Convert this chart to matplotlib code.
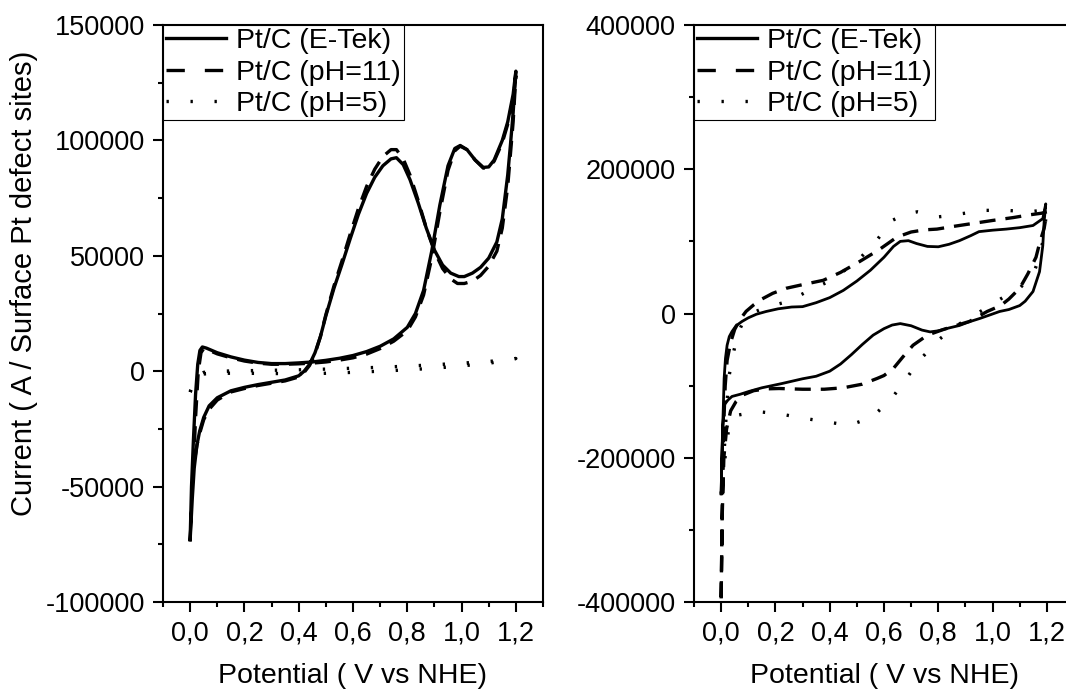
import numpy as np
import matplotlib
matplotlib.use("Agg")
import matplotlib.pyplot as plt
from matplotlib.lines import Line2D
from matplotlib.ticker import MultipleLocator, FuncFormatter

plt.rcParams['font.family'] = ['Liberation Sans', 'DejaVu Sans']
plt.rcParams['axes.unicode_minus'] = False

labels = ["Pt/C (E-Tek)", "Pt/C (pH=11)", "Pt/C (pH=5)"]

# ---- left panel: current per surface Pt defect site ----
etek_l_x = [0.000, 0.005, 0.012, 0.020, 0.028, 0.036, 0.045, 0.06, 0.10, 0.15, 0.20, 0.25, 0.30, 0.35,
            0.40, 0.45, 0.50, 0.55, 0.60, 0.65, 0.70, 0.75, 0.80, 0.83, 0.86, 0.89, 0.92, 0.95, 0.975,
            0.995, 1.02, 1.05, 1.08, 1.10, 1.12, 1.15, 1.17, 1.19, 1.20,
            1.19, 1.18, 1.17, 1.15, 1.13, 1.10, 1.07, 1.04, 1.01, 0.99, 0.96, 0.93, 0.90, 0.87, 0.84,
            0.81, 0.785, 0.76, 0.74, 0.71, 0.68, 0.65, 0.62, 0.59, 0.56, 0.53, 0.50, 0.48, 0.46, 0.44,
            0.42, 0.40, 0.35, 0.30, 0.25, 0.20, 0.15, 0.10, 0.07, 0.05, 0.035, 0.025, 0.015, 0.008, 0.000]
etek_l_y = [-73000, -50000, -30000, -10000, 3000, 9000, 10500, 10000, 8000, 6200, 4800, 3800, 3300, 3300,
            3600, 4000, 4700, 5600, 6800, 8500, 10800, 14000, 19000, 25000, 35000, 52000, 72000, 89000, 96500,
            97800, 96000, 91500, 88300, 88500, 91500, 100000, 108000, 120000, 130000,
            112000, 98000, 85000, 66000, 56000, 49000, 45000, 42500, 41000, 41000, 42500, 46000, 52500, 62000, 73000,
            83000, 89500, 92500, 92000, 89000, 84000, 77000, 68000, 57500, 46500, 36000, 24000, 15000, 8000, 3000,
            0, -2000, -3800, -4800, -5800, -7000, -8500, -11500, -15000, -20000, -26000, -32000, -42000, -55000, -73000]

ph11_l_x = [0.012, 0.020, 0.030, 0.040, 0.050, 0.07, 0.10, 0.15, 0.20, 0.25, 0.30, 0.35, 0.40, 0.45,
            0.50, 0.55, 0.60, 0.65, 0.70, 0.75, 0.80, 0.83, 0.86, 0.89, 0.92, 0.95, 0.975, 0.995, 1.02,
            1.05, 1.08, 1.10, 1.12, 1.15, 1.17, 1.19, 1.20,
            1.19, 1.18, 1.17, 1.15, 1.13, 1.10, 1.07, 1.04, 1.01, 0.985, 0.96, 0.93, 0.90, 0.87, 0.84,
            0.81, 0.785, 0.76, 0.74, 0.71, 0.68, 0.65, 0.62, 0.59, 0.56, 0.53, 0.50, 0.48, 0.46, 0.44,
            0.42, 0.40, 0.35, 0.30, 0.25, 0.20, 0.15, 0.10, 0.07, 0.05, 0.035, 0.025, 0.012]
ph11_l_y = [-42000, -20000, 0, 8000, 9800, 9000, 7500, 5800, 4400, 3500, 3000, 3000, 3200, 3500,
            4000, 4800, 5800, 7400, 9800, 13000, 17500, 23500, 33000, 49000, 69000, 87000, 95500, 97500, 96000,
            91500, 88000, 88300, 91000, 99000, 107000, 118000, 128000,
            108000, 94000, 80000, 62000, 52000, 45500, 41500, 39000, 38000, 38000, 40000, 44500, 52000, 62000, 74000,
            85000, 92000, 96000, 96000, 93000, 87500, 80000, 70500, 59500, 48000, 37000, 24500, 15000, 7500, 2500,
            -500, -2500, -4200, -5200, -6200, -7500, -9000, -12500, -16500, -21000, -27000, -32000, -42000]

ph5_l_x = [0.000, 0.02, 0.05, 0.10, 0.20, 0.30, 0.40, 0.50, 0.60, 0.70, 0.80, 0.90, 1.00, 1.10, 1.20,
           1.10, 1.00, 0.90, 0.80, 0.70, 0.60, 0.50, 0.40, 0.30, 0.20, 0.10, 0.05, 0.02, 0.000]
ph5_l_y = [-9000, -3000, -500, 0, 200, 400, 600, 900, 1300, 1700, 2200, 2800, 3500, 4200, 5500,
           3400, 2300, 1300, 600, 0, -500, -900, -1100, -1000, -900, -900, -1200, -3500, -9000]

# ---- right panel ----
etek_r_x = [0.000, 0.004, 0.008, 0.011, 0.016, 0.022, 0.030, 0.040, 0.055, 0.077, 0.10, 0.13, 0.166, 0.21,
            0.26, 0.30, 0.35, 0.40, 0.45, 0.50, 0.55, 0.60, 0.635, 0.66, 0.69, 0.72, 0.76, 0.80, 0.84, 0.878,
            0.92, 0.95, 1.00, 1.05, 1.10, 1.149, 1.185, 1.196,
            1.19, 1.185, 1.173, 1.149, 1.12, 1.10, 1.06, 1.026, 0.99, 0.952, 0.91, 0.878, 0.84, 0.80, 0.77,
            0.74, 0.70, 0.66, 0.63, 0.60, 0.56, 0.52, 0.48, 0.44, 0.40, 0.35, 0.30, 0.225, 0.15, 0.103, 0.07,
            0.04, 0.025, 0.011, 0.006, 0.002, 0.000]
etek_r_y = [-250000, -180000, -130000, -90000, -62000, -44000, -32000, -25000, -17000, -11000, -6000, -1000, 2800, 6500,
            9000, 9500, 15000, 22000, 32000, 45000, 60000, 78000, 93000, 100000, 101000, 97000, 93000, 92500, 96000, 101000,
            108000, 113500, 115500, 117000, 119000, 122000, 131500, 152000,
            127500, 94000, 58000, 30500, 17000, 11000, 5500, 2800, -2000, -7000, -12000, -16600, -20000, -24000, -25500,
            -23000, -17000, -14000, -16000, -21000, -30000, -43000, -57000, -70000, -80000, -87000, -90500, -97000, -103000, -108000, -112000,
            -115000, -120000, -127000, -160000, -210000, -250000]

ph11_r_x = [0.000, 0.003, 0.006, 0.010, 0.015, 0.022, 0.035, 0.05, 0.07, 0.092, 0.12, 0.15, 0.19, 0.24,
            0.30, 0.376, 0.44, 0.51, 0.58, 0.648, 0.70, 0.75, 0.795, 0.86, 0.93, 1.00, 1.076, 1.14, 1.18, 1.20,
            1.19, 1.175, 1.16, 1.13, 1.10, 1.06, 1.03, 0.98, 0.915, 0.88, 0.82, 0.76, 0.707, 0.67, 0.635,
            0.60, 0.575, 0.52, 0.45, 0.38, 0.30, 0.214, 0.166, 0.12, 0.08, 0.055, 0.035, 0.02, 0.01, 0.004, 0.000]
ph11_r_y = [-395000, -300000, -220000, -150000, -100000, -65000, -40000, -22000, -8000, 3000, 12000, 20000, 28000, 35000,
            40000, 46000, 57000, 72000, 88000, 106000, 113000, 116000, 117000, 121000, 125000, 129000, 133000, 137000, 139000, 141000,
            118000, 100000, 78000, 55000, 35000, 20000, 11000, 2800, -11000, -15000, -22000, -30000, -44000, -60000, -76000,
            -86000, -90000, -98000, -103000, -105000, -105000, -104000, -104500, -107000, -113000, -122000, -135000, -160000, -200000, -280000, -395000]

ph5_r_x = [0.000, 0.01, 0.02, 0.03, 0.045, 0.06, 0.08, 0.11, 0.16, 0.245, 0.325, 0.40, 0.50, 0.57, 0.63,
           0.68, 0.723, 0.76, 0.80, 0.85, 0.89, 0.97, 1.05, 1.135, 1.18, 1.20,
           1.19, 1.175, 1.15, 1.10, 1.05, 0.965, 0.88, 0.806, 0.73, 0.677, 0.62, 0.55, 0.47, 0.385,
           0.30, 0.214, 0.133, 0.06, 0.03, 0.02, 0.01, 0.000]
ph5_r_y = [-250000, -200000, -130000, -85000, -55000, -30000, -12000, 0, 8000, 16600, 32000, 45000, 72000, 100000, 129000,
           138000, 141000, 138000, 134000, 136000, 138600, 143000, 143000, 141000, 143000, 146000,
           110000, 80000, 55000, 35000, 25000, 5000, -14000, -35000, -65000, -93000, -122000, -145000, -155000, -150000,
           -145000, -139000, -136000, -141000, -155000, -180000, -215000, -250000]

fig = plt.figure(figsize=(10.66, 6.89), dpi=100)
ax1 = fig.add_axes([163 / 1066, 1 - 602 / 689, 380 / 1066, 577 / 689])
ax2 = fig.add_axes([694 / 1066, 1 - 602 / 689, 380 / 1066, 577 / 689])

dash = (0, (4.8, 3.0))
dots = (0, (0.7, 6.5))

ax1.plot(etek_l_x, etek_l_y, color="black", lw=2.4)
ax1.plot(ph11_l_x, ph11_l_y, color="black", lw=2.4, ls=dash)
ax1.plot(ph5_l_x, ph5_l_y, color="black", lw=2.4, ls=dots)

ax2.plot(etek_r_x, etek_r_y, color="black", lw=2.0)
ax2.plot(ph11_r_x, ph11_r_y, color="black", lw=2.4, ls=dash)
ax2.plot(ph5_r_x, ph5_r_y, color="black", lw=2.4, ls=dots)

# legend keys drawn like the original (two long dashes, three dots)
handles = [Line2D([], [], color="black", lw=2.4),
           Line2D([], [], color="black", lw=2.4, ls=(0, (5.5, 6.0))),
           Line2D([], [], color="black", lw=2.4, ls=(0, (0.7, 6.5)))]

ax1.set_ylim(-100000, 150000)
ax1.yaxis.set_major_locator(MultipleLocator(50000))
ax1.yaxis.set_minor_locator(MultipleLocator(25000))
ax2.set_ylim(-400000, 400000)
ax2.yaxis.set_major_locator(MultipleLocator(200000))
ax2.yaxis.set_minor_locator(MultipleLocator(100000))

for ax in (ax1, ax2):
    ax.set_xlim(-0.1, 1.3)
    ax.xaxis.set_major_locator(MultipleLocator(0.2))
    ax.xaxis.set_minor_locator(MultipleLocator(0.1))
    ax.xaxis.set_major_formatter(FuncFormatter(lambda v, p: f"{v:.1f}".replace(".", ",").replace("-0,0", "0,0")))
    ax.yaxis.set_major_formatter(FuncFormatter(lambda v, p: f"{int(round(v))}"))
    ax.tick_params(which="major", direction="out", length=7.2, width=1.5, labelsize=19.5,
                   top=False, right=False)
    ax.tick_params(which="minor", direction="out", length=3.6, width=1.5, top=False, right=False)
    ax.tick_params(axis="x", which="major", pad=6)
    ax.tick_params(axis="y", which="major", pad=6)
    for s in ax.spines.values():
        s.set_linewidth(1.5)
    ax.set_xlabel("Potential ( V vs NHE)", fontsize=20.5)
    ax.xaxis.set_label_coords(0.5, -0.106)
    leg = ax.legend(handles, labels, loc="upper left", bbox_to_anchor=(0, 1), borderaxespad=0,
                    fancybox=False, edgecolor="black", framealpha=1, fontsize=20.5, handlelength=2.1,
                    handletextpad=0.35, borderpad=0.12, labelspacing=0.18)
    leg.get_frame().set_linewidth(0.8)

ax1.set_ylabel("Current ( A / Surface Pt defect sites)", fontsize=21)
ax1.yaxis.set_label_coords(-0.33, 0.553)

fig.savefig("out.png", dpi=100)
